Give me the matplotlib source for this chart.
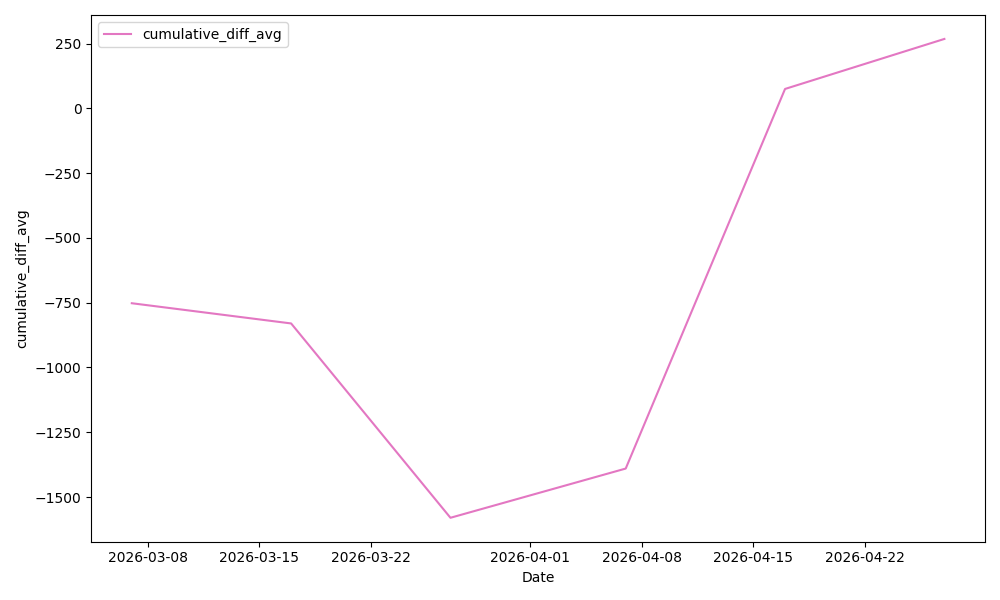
import matplotlib
matplotlib.use("Agg")
import matplotlib.pyplot as plt
import pandas as pd

dates = ["2026-03-07", "2026-03-17", "2026-03-27", "2026-04-07", "2026-04-17", "2026-04-27"]
cumulative_diff_avg = [-752, -830, -1580, -1390, 75, 268]

x = pd.to_datetime(dates)

fig, ax = plt.subplots(figsize=(10, 6), dpi=100)
ax.plot(x, cumulative_diff_avg, color="#e377c2", label="cumulative_diff_avg")
ax.set_xlabel("Date")
ax.set_ylabel("cumulative_diff_avg")
ax.legend(loc="upper left")
fig.tight_layout()
fig.savefig("out.png")
